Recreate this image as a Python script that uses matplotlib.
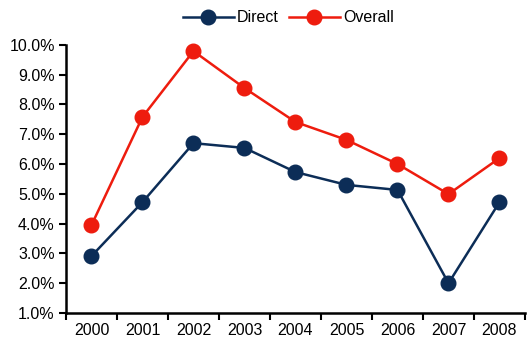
import numpy as np
import matplotlib.pyplot as plt
from matplotlib.ticker import FixedLocator, PercentFormatter

# dados
anos = ['2000', '2001', '2002', '2003', '2004', '2005', '2006', '2007', '2008']
direct = [2.91, 4.72, 6.70, 6.54, 5.73, 5.30, 5.13, 2.00, 4.72]
overall = [3.95, 7.58, 9.79, 8.55, 7.41, 6.81, 6.00, 4.99, 6.20]

plt.rcParams['font.family'] = ['Liberation Sans', 'DejaVu Sans']

fig = plt.figure(figsize=(5.27, 3.46), dpi=100)
ax = fig.add_axes([0.1252, 0.0954, 0.871, 0.775])

x = np.arange(len(anos))
ax.plot(x, direct, '-o', color='#0c2d57', lw=1.8, ms=10.5, label='Direct', clip_on=False)
ax.plot(x, overall, '-o', color='#ee1c0e', lw=1.8, ms=10.5, label='Overall', clip_on=False)

ax.set_xlim(-0.5, len(anos) - 0.5)
ax.set_ylim(1, 10)
ax.set_yticks(np.arange(1, 10.5, 1))
ax.yaxis.set_major_formatter(PercentFormatter(decimals=1))

# ticks nos limites das categorias, rótulos no centro
ax.xaxis.set_major_locator(FixedLocator(np.arange(-0.5, len(anos), 1)))
ax.xaxis.set_minor_locator(FixedLocator(x))
ax.set_xticklabels([], minor=False)
ax.set_xticklabels(anos, minor=True)
ax.tick_params(axis='x', which='minor', length=0, pad=7, labelsize=11.5)
ax.tick_params(axis='x', which='major', length=5, width=1.5)
ax.tick_params(axis='y', length=5, width=1.5, labelsize=11.5, pad=3)

for lado in ['top', 'right']:
    ax.spines[lado].set_visible(False)
for lado in ['left', 'bottom']:
    ax.spines[lado].set_linewidth(1.8)

fig.legend(loc='upper center', bbox_to_anchor=(0.547, 1.012), ncol=2, frameon=False,
           fontsize=11.5, handlelength=3.2, handletextpad=0.2, columnspacing=0.6)

fig.savefig('out.png', dpi=100)
